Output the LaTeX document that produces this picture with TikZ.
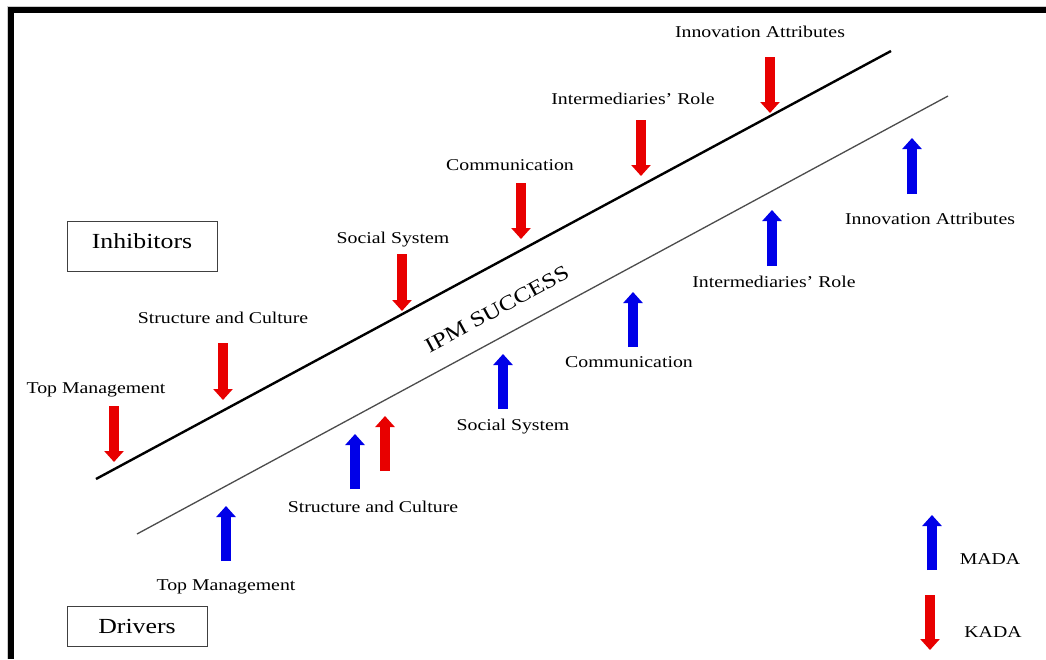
\documentclass[tikz,border=0pt]{standalone}
\usepackage{fontspec}
\setmainfont{Liberation Serif}[FakeStretch=1.2]
\usetikzlibrary{arrows.meta}
\definecolor{kred}{RGB}{232,0,0}
\definecolor{mblue}{RGB}{0,0,232}
\begin{document}
\begin{tikzpicture}[x=1pt,y=-1pt,
  lbl/.style={font=\fontsize{16.5}{18}\selectfont, anchor=base, inner sep=0pt},
  kada/.style={kred, line width=10pt, -{Triangle[width=19pt,length=11pt]}},
  mada/.style={mblue, line width=10pt, -{Triangle[width=19pt,length=11pt]}},
  tagbox/.style={draw=black!75, line width=1pt, inner sep=0pt, font=\fontsize{21.5}{24}\selectfont}]
\useasboundingbox (0,0) rectangle (1046,659);
\fill[white] (0,0) rectangle (1046,659);
% frame
\draw[black!20, line width=1pt] (7.5,659) -- (7.5,6.5) -- (1046,6.5);
\draw[black, line width=6pt] (11,659) -- (11,10) -- (1046,10);
% band lines
\coordinate (u1) at (96,479);
\coordinate (u2) at (891,51);
\coordinate (l1) at (137,534);
\coordinate (l2) at (948,96);
\draw[black, line width=2.4pt] (u1) -- (u2);
\draw[black!70, line width=1.3pt] (l1) -- (l2);
\node[font=\fontsize{21}{24}\selectfont, rotate=28.4] (ipm) at (497,309) {IPM SUCCESS};
% boxes
\node[tagbox, minimum width=150pt, minimum height=50pt, text height=15pt, text depth=10pt] (inh) at (142,246) {Inhibitors};
\node[tagbox, minimum width=140pt, minimum height=40pt, text height=15pt, text depth=0pt] (drv) at (137,626) {Drivers};
% inhibitors (KADA, down)
\node[lbl] (i1) at (96,393) {Top Management};
\draw[kada] (114,406) -- (114,462);
\node[lbl] (i2) at (223,323) {Structure and Culture};
\draw[kada] (223,343) -- (223,400);
\node[lbl] (i3) at (393,243) {Social System};
\draw[kada] (402,254) -- (402,311);
\node[lbl] (i4) at (510,170) {Communication};
\draw[kada] (521,183) -- (521,239);
\node[lbl] (i5) at (633,104) {Intermediaries’ Role};
\draw[kada] (641,120) -- (641,176);
\node[lbl] (i6) at (760,37) {Innovation Attributes};
\draw[kada] (770,57) -- (770,113);
% drivers (MADA, up)
\node[lbl] (d1) at (226,590) {Top Management};
\draw[mada] (226,561) -- (226,506);
\node[lbl] (d2) at (373,512) {Structure and Culture};
\draw[mada] (355,489) -- (355,434);
\draw[kada] (385,471) -- (385,416);
\node[lbl] (d3) at (513,430) {Social System};
\draw[mada] (503,409) -- (503,354);
\node[lbl] (d4) at (629,367) {Communication};
\draw[mada] (633,347) -- (633,292);
\node[lbl] (d5) at (774,287) {Intermediaries' Role};
\draw[mada] (772,266) -- (772,210);
\node[lbl] (d6) at (930,224) {Innovation Attributes};
\draw[mada] (912,194) -- (912,138);
% legend
\draw[mada] (932,570) -- (932,515);
\node[lbl] (lm) at (990,564) {MADA};
\draw[kada] (930,595) -- (930,650);
\node[lbl] (lk) at (993,637) {KADA};
\end{tikzpicture}
\end{document}
